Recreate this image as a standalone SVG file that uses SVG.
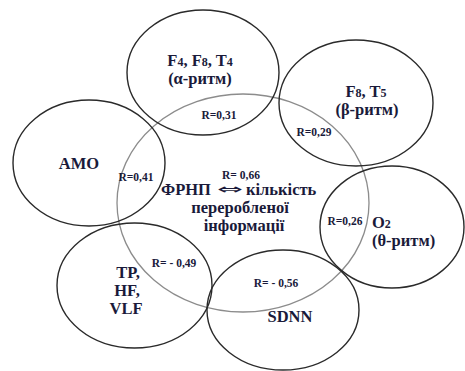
<svg xmlns="http://www.w3.org/2000/svg" width="465" height="371" viewBox="0 0 465 371">
<style>
.e{fill:none;stroke:#2a2a2a;stroke-width:1.4}
.g{fill:none;stroke:#8c8c8c;stroke-width:1.3}
.t{font-family:"Liberation Serif","Times New Roman",serif;font-weight:bold;font-size:16.5px;fill:#1a1a3a}
.r{font-family:"Liberation Serif","Times New Roman",serif;font-weight:bold;font-size:11.5px;fill:#1a1a3a}
.s{font-size:12px}
</style>
<rect width="465" height="371" fill="#ffffff"/>
<g id="connectors"></g>
<g id="center">
<ellipse class="g" cx="243" cy="203" rx="126" ry="109"/>
<text class="r" x="241" y="179" text-anchor="middle">R= 0,66</text>
<text class="t" x="161" y="195">ФРНП</text>
<text x="217" y="194" textLength="26" lengthAdjust="spacingAndGlyphs" style="font-family:'DejaVu Sans',sans-serif;font-size:14px;fill:#1a1a3a">⇔</text>
<text class="t" x="246" y="195">кількість</text>
<text class="t" x="240" y="213" text-anchor="middle">переробленої</text>
<text class="t" x="244" y="231" text-anchor="middle">інформації</text>
</g>
<g id="alpha">
<ellipse class="e" cx="203" cy="72.5" rx="76" ry="62.5"/>
<text class="t" x="200" y="66" text-anchor="middle">F<tspan class="s">4</tspan>, F<tspan class="s">8</tspan>, T<tspan class="s">4</tspan></text>
<text class="t" x="200" y="84" text-anchor="middle">(α-ритм)</text>
<text class="r" x="219" y="119" text-anchor="middle">R=0,31</text>
</g>
<g id="beta">
<ellipse class="e" cx="356" cy="103" rx="77" ry="63"/>
<text class="t" x="366" y="97" text-anchor="middle">F<tspan class="s">8</tspan>, T<tspan class="s">5</tspan></text>
<text class="t" x="367" y="115" text-anchor="middle">(β-ритм)</text>
<text class="r" x="314" y="136" text-anchor="middle">R=0,29</text>
</g>
<g id="amo">
<ellipse class="e" cx="89" cy="163" rx="76" ry="63"/>
<text class="t" x="79" y="169" text-anchor="middle">AMO</text>
<text class="r" x="136" y="181" text-anchor="middle">R=0,41</text>
</g>
<g id="theta">
<ellipse class="e" cx="392" cy="227" rx="72" ry="61"/>
<text class="t" x="372" y="228">O<tspan class="s">2</tspan></text>
<text class="t" x="372" y="246">(θ-ритм)</text>
<text class="r" x="345" y="225" text-anchor="middle">R=0,26</text>
</g>
<g id="tp">
<ellipse class="e" cx="134.5" cy="285.5" rx="77.5" ry="62.5"/>
<text class="t" x="128" y="278" text-anchor="middle">TP,</text>
<text class="t" x="127" y="296" text-anchor="middle">HF,</text>
<text class="t" x="126" y="314" text-anchor="middle">VLF</text>
<text class="r" x="174" y="267" text-anchor="middle">R= - 0,49</text>
</g>
<g id="sdnn">
<ellipse class="e" cx="283" cy="310" rx="76" ry="60"/>
<text class="t" x="290" y="322" text-anchor="middle">SDNN</text>
<text class="r" x="276" y="287" text-anchor="middle">R= - 0,56</text>
</g>
</svg>
